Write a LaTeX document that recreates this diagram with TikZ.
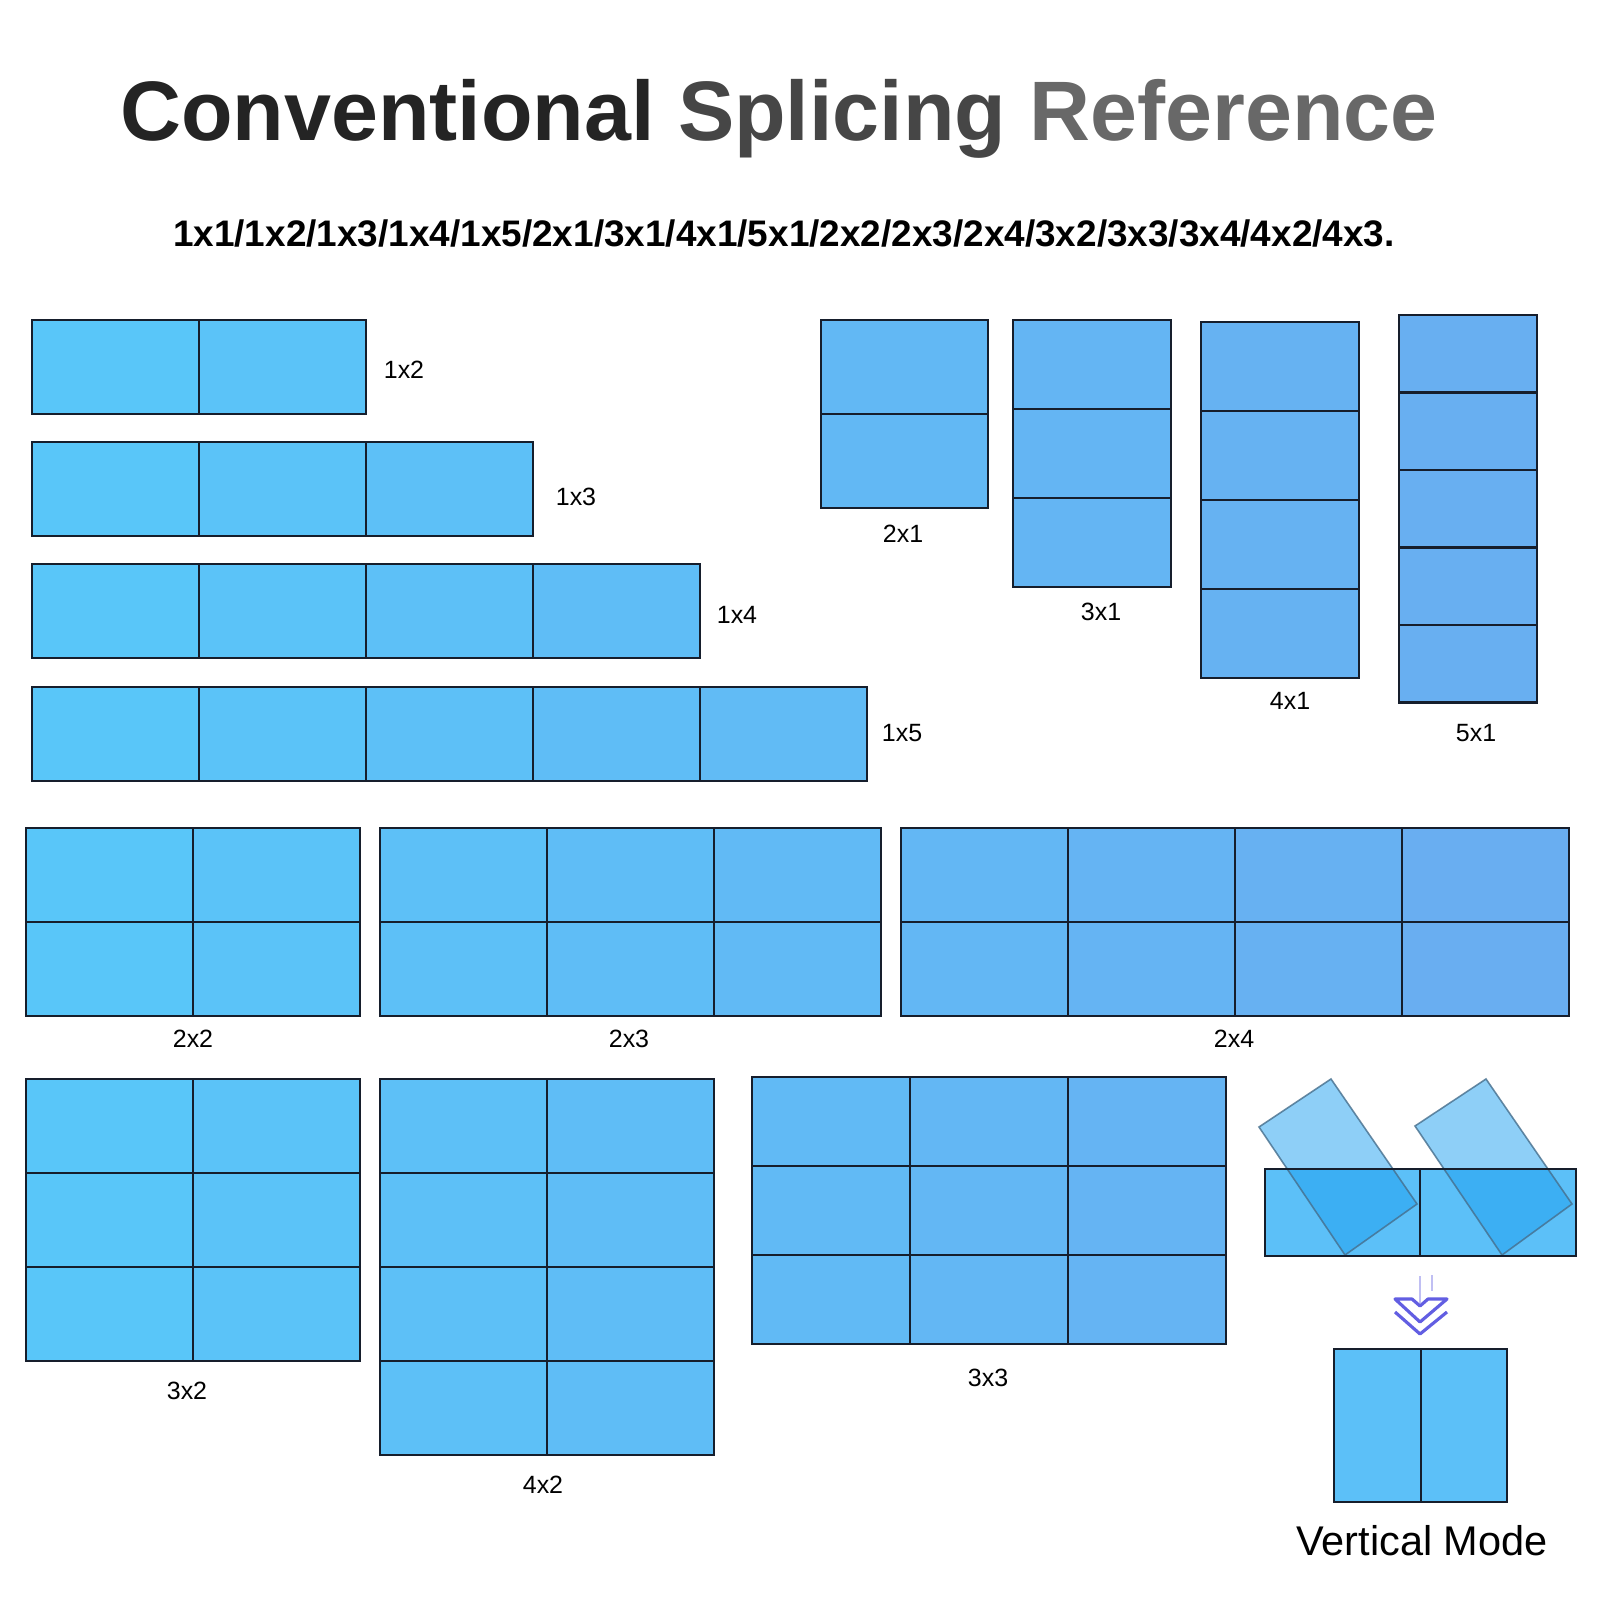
\documentclass[tikz,border=0pt]{standalone}
\usepackage{fontspec}
\setmainfont{Liberation Sans}

\definecolor{leftc}{RGB}{88,200,250}
\definecolor{rightc}{RGB}{106,172,240}
\definecolor{modec}{RGB}{92,192,248}
\definecolor{tiltc}{RGB}{29,160,240}
\definecolor{tiltedge}{RGB}{70,110,140}
\definecolor{arrowc}{RGB}{98,94,226}
\definecolor{edgec}{RGB}{22,30,44}
\definecolor{titlea}{RGB}{36,36,36}
\definecolor{titleb}{RGB}{70,70,70}
\definecolor{titlec}{RGB}{104,104,104}

\tikzset{
  cell/.style={draw=edgec, line width=0.6pt},
  tilt/.style={fill=tiltc, fill opacity=0.5, draw=tiltedge, draw opacity=0.8, line width=0.45pt},
  lbl/.style={font=\fontsize{7.1}{8}\selectfont},
  heading/.style={font=\fontsize{24}{28}\selectfont\bfseries, anchor=base},
  sizes/.style={font=\fontsize{10.5}{12}\selectfont\bfseries, anchor=base},
  modetext/.style={font=\fontsize{11.8}{13}\selectfont}
}

\begin{document}
\begin{tikzpicture}[x=0.01cm, y=-0.01cm]

    \useasboundingbox (0,0) rectangle (1600,1600);

    \node [heading] (title) at (779,141) {{\color{titlea}Conventional} {\color{titleb}Splicing} {\color{titlec}Reference}};
    \node [sizes] (sizes) at (784,247) {1x1/1x2/1x3/1x4/1x5/2x1/3x1/4x1/5x1/2x2/2x3/2x4/3x2/3x3/3x4/4x2/4x3.};

    % x/y/columns/rows/cell width/cell height/label x/label y/label
    \foreach \gx/\gy/\nc/\nr/\cw/\ch/\lx/\ly/\lab in {
        32/320/2/1/167/94/404/370/1x2,
        32/442/3/1/167/94/576/497/1x3,
        32/564/4/1/167/94/737/615/1x4,
        32/687/5/1/167/94/902/733/1x5,
        821/320/1/2/167/94/903/534/2x1,
        1013/320/1/3/158/89/1101/612/3x1,
        1201/322/1/4/158/89/1290/701/4x1,
        1399/315/1/5/138/77.5/1476/733/5x1,
        26/828/2/2/167/94/193/1039/2x2,
        380/828/3/2/167/94/629/1039/2x3,
        901/828/4/2/167/94/1234/1039/2x4,
        26/1079/2/3/167/94/187/1391/3x2,
        380/1079/2/4/167/94/543/1485/4x2,
        752/1077/3/3/158/89/988/1378/3x3} {
        \foreach \i in {1,...,\nc}
            \foreach \j in {1,...,\nr} {
                \pgfmathtruncatemacro\mix{(\gx+(\i-0.5)*\cw)/16}
                \draw [cell, fill=rightc!\mix!leftc] ({\gx+(\i-1)*\cw},{\gy+(\j-1)*\ch}) rectangle ++(\cw,\ch);
            }
        \node [lbl] (\lab) at (\lx,\ly) {\lab};
    }

    % vertical mode, panels turning
    \fill [modec] (1265,1169) rectangle (1576,1256);
    \draw [tilt] (1259,1127) -- (1331,1079) -- (1417,1204) -- (1345,1255) -- cycle;
    \draw [tilt] (1415,1126) -- (1486,1079) -- (1572,1204) -- (1502,1255) -- cycle;
    \draw [cell] (1265,1169) rectangle (1420,1256);
    \draw [cell] (1420,1169) rectangle (1576,1256);

    % arrow
    \draw [arrowc, opacity=0.4, line width=0.8pt] (1420,1276) -- (1420,1303);
    \draw [arrowc, opacity=0.4, line width=0.8pt] (1432,1275) -- (1432,1291);
    \draw [arrowc, line width=0.9pt, line join=round] (1395,1299) -- (1412,1299) -- (1420,1306) -- (1428,1299) -- (1447,1299) -- (1420,1322) -- cycle;
    \draw [arrowc, line width=0.9pt, line join=round] (1395,1312) -- (1420,1334) -- (1447,1312);

    % vertical mode, result
    \draw [cell, fill=modec] (1334,1349) rectangle (1421,1502);
    \draw [cell, fill=modec] (1421,1349) rectangle (1507,1502);
    \node [modetext] (vmode) at (1422,1541) {Vertical Mode};

\end{tikzpicture}
\end{document}
